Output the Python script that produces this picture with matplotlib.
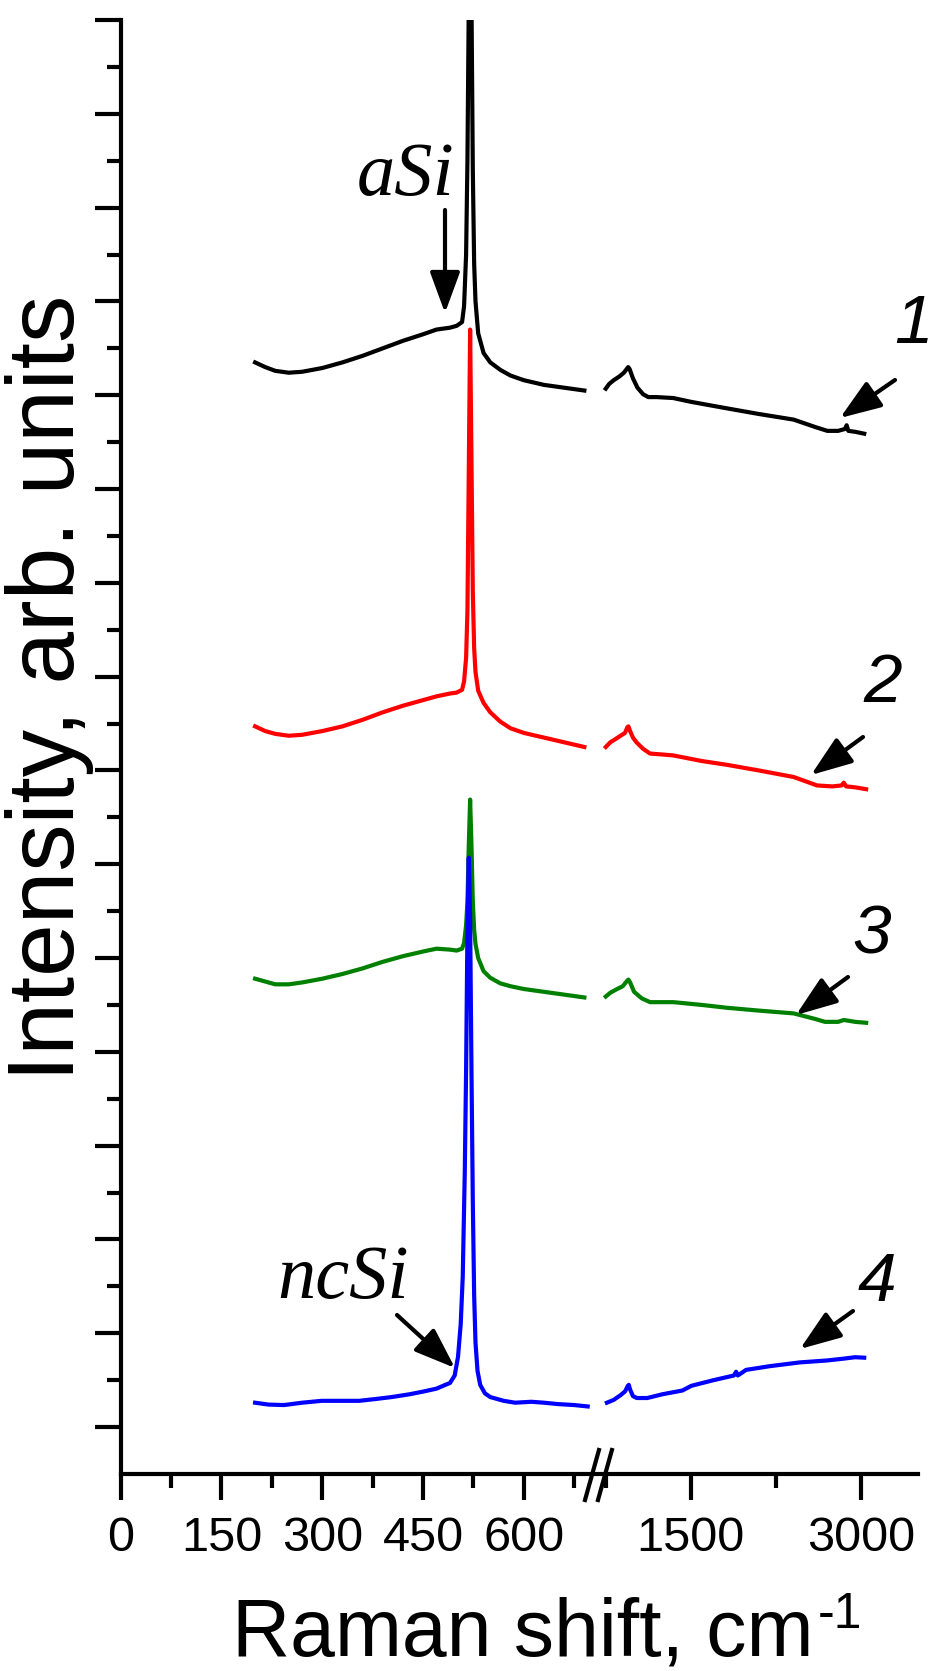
import numpy as np
import matplotlib
matplotlib.use("Agg")
import matplotlib.pyplot as plt

plt.rcParams["font.family"] = ["Liberation Sans", "DejaVu Sans"]

# Raman spectra of samples 1-4, split at the axis break (left: 200-700, right: 750-3050)
shift_left = [200, 215, 230, 250, 270, 300, 330, 360, 390, 420, 450, 470, 490, 500, 508,
              511, 514, 516, 518, 520, 522, 524, 526, 528, 532, 540, 550, 565, 580, 600,
              630, 660, 690]
int_left_1 = [11.35, 11.30, 11.26, 11.24, 11.25, 11.29, 11.35, 11.42, 11.50, 11.58, 11.65,
              11.70, 11.72, 11.74, 11.78, 11.95, 12.5, 13.5, 15.2, 16.0, 15.2, 13.4, 12.4,
              12.0, 11.66, 11.45, 11.35, 11.27, 11.21, 11.16, 11.11, 11.08, 11.05]
int_left_2 = [7.47, 7.42, 7.39, 7.37, 7.38, 7.42, 7.47, 7.54, 7.62, 7.69, 7.75, 7.79, 7.82,
              7.83, 7.86, 7.95, 8.2, 8.7, 10.2, 11.7, 10.3, 8.9, 8.3, 8.05, 7.85, 7.72, 7.62,
              7.52, 7.45, 7.40, 7.35, 7.30, 7.25]
int_left_3 = [4.78, 4.75, 4.72, 4.72, 4.74, 4.78, 4.83, 4.89, 4.96, 5.02, 5.07, 5.10, 5.09,
              5.08, 5.10, 5.16, 5.35, 5.6, 6.2, 6.69, 6.2, 5.6, 5.3, 5.15, 5.0, 4.86, 4.79,
              4.73, 4.70, 4.67, 4.64, 4.61, 4.58]

shift_left_4 = [200, 220, 243, 270, 299, 330, 355, 380, 403, 430, 451, 470, 483, 490, 497,
                502, 506, 509, 512, 514, 516, 518, 520, 522, 524, 526, 528, 531, 535, 542,
                550, 570, 587, 611, 630, 651, 675, 695]
int_left_4 = [0.26, 0.24, 0.235, 0.26, 0.28, 0.28, 0.28, 0.30, 0.32, 0.35, 0.38, 0.41, 0.45,
              0.47, 0.55, 0.75, 1.1, 1.6, 2.7, 3.8, 5.3, 6.07, 5.4, 3.8, 2.4, 1.4, 0.9, 0.6,
              0.45, 0.36, 0.32, 0.28, 0.26, 0.27, 0.26, 0.245, 0.235, 0.22]

shift_right_1 = [750, 780, 820, 870, 910, 935, 948, 960, 990, 1030, 1080, 1126, 1200, 1346,
                 1500, 1819, 2100, 2408, 2600, 2705, 2800, 2860, 2875, 2890, 2950, 3030]
int_right_1 = [11.07, 11.12, 11.16, 11.20, 11.24, 11.28, 11.30, 11.28, 11.18, 11.08, 11.01,
               10.98, 10.98, 10.97, 10.93, 10.86, 10.80, 10.74, 10.66, 10.62, 10.62, 10.64,
               10.68, 10.62, 10.61, 10.59]
shift_right_2 = [750, 790, 830, 880, 920, 940, 950, 965, 990, 1021, 1080, 1141, 1250, 1346,
                 1600, 1819, 2100, 2408, 2614, 2750, 2830, 2850, 2870, 2950, 3047]
int_right_2 = [7.25, 7.30, 7.33, 7.37, 7.40, 7.46, 7.47, 7.42, 7.35, 7.30, 7.23, 7.18, 7.17,
               7.16, 7.10, 7.06, 7.00, 6.93, 6.84, 6.83, 6.84, 6.87, 6.83, 6.82, 6.80]
shift_right_3 = [750, 790, 850, 900, 940, 950, 965, 1000, 1068, 1141, 1346, 1600, 1819, 2100,
                 2408, 2600, 2684, 2800, 2850, 2950, 3047]
int_right_3 = [4.59, 4.63, 4.67, 4.70, 4.76, 4.77, 4.74, 4.64, 4.57, 4.53, 4.53, 4.50, 4.47,
               4.44, 4.41, 4.35, 4.32, 4.32, 4.34, 4.32, 4.31]
shift_right_4 = [760, 820, 880, 920, 945, 953, 965, 990, 1024, 1116, 1250, 1426, 1505, 1700,
                 1880, 1900, 1915, 1988, 2200, 2465, 2700, 2850, 2950, 3030]
int_right_4 = [0.26, 0.29, 0.34, 0.38, 0.44, 0.45, 0.40, 0.33, 0.31, 0.31, 0.35, 0.39, 0.44,
               0.50, 0.55, 0.59, 0.55, 0.61, 0.65, 0.69, 0.71, 0.73, 0.745, 0.74]

colors = ["black", "red", "green", "blue"]
major_ticks = [0, 150, 300, 450, 600, 1500, 3000]
major_labels = ["0", "150", "300", "450", "600", "1500", "3000"]
minor_ticks = [75, 225, 375, 525, 675, 750, 2250]

# piecewise x scale: 0-700 as is, then a small gap, then 700-3500 compressed
BRK = 700.0
GAP = 13.4
K = 0.1687


def fwd(x):
    x = np.asarray(x, dtype=float)
    return np.where(x <= BRK, x, BRK + GAP + (x - BRK) * K)


def inv(t):
    t = np.asarray(t, dtype=float)
    return np.where(t <= BRK, t, np.where(t < BRK + GAP, BRK, BRK + (t - BRK - GAP) / K))


W, H = 934, 1671
fig = plt.figure(figsize=(W / 100, H / 100), dpi=100)
ax = fig.add_axes([120.7 / W, (H - 1474) / H, 796.8 / W, 1454 / H])
ax.set_xscale("function", functions=(fwd, inv))

lefts = [(shift_left, int_left_1), (shift_left, int_left_2), (shift_left, int_left_3),
         (shift_left_4, int_left_4)]
rights = [(shift_right_1, int_right_1), (shift_right_2, int_right_2),
          (shift_right_3, int_right_3), (shift_right_4, int_right_4)]
for (xl, yl), (xr, yr), c in zip(lefts, rights, colors):
    ax.plot(xl, yl, color=c, lw=3.0)
    ax.plot(xr, yr, color=c, lw=3.0)

ax.set_xlim(0, 3500)
ax.set_ylim(-0.5, 15)
ax.set_xticks(major_ticks)
ax.set_xticklabels(major_labels)
ax.set_xticks(minor_ticks, minor=True)
ax.set_yticks(np.arange(0, 16, 1))
ax.set_yticks(np.arange(0.5, 15, 1), minor=True)
ax.set_yticklabels([])
ax.tick_params(which="major", direction="out", length=19, width=3, labelsize=35, pad=11)
ax.tick_params(which="minor", direction="out", length=10, width=3)
for side in ["top", "right"]:
    ax.spines[side].set_visible(False)
for side in ["left", "bottom"]:
    ax.spines[side].set_linewidth(3)

# axis break marks
for x0 in [0.5827, 0.599]:
    ax.plot([x0, x0 + 0.0175], [-0.0179, 0.0165], transform=ax.transAxes,
            color="black", lw=3, clip_on=False)

fig.text(50 / W, 1 - 688 / H, "Intensity, arb. units", rotation=90, ha="center",
         va="center", fontsize=68)
fig.text(232 / W, 1 - 1656 / H, "Raman shift, cm", ha="left", va="baseline", fontsize=58)
fig.text(818 / W, 1 - 1628 / H, "-1", ha="left", va="baseline", fontsize=36)

# curve numbers and arrows
labels = [("1", 914, 343), ("2", 883, 702), ("3", 872, 953), ("4", 877, 1301)]
for t, x, y in labels:
    fig.text(x / W, 1 - y / H, t, ha="center", va="baseline", fontsize=50, style="italic")

arrows = [((895, 380), (840, 418)), ((863, 737), (811, 775)), ((848, 977), (796, 1015)),
          ((853, 1311), (800, 1349)), ((445, 210), (445, 313)), ((397, 1315), (455, 1368))]
for (tx, ty), (hx, hy) in arrows:
    ax.annotate("", xy=(hx, H - hy), xycoords="figure pixels", xytext=(tx, H - ty),
                textcoords="figure pixels",
                arrowprops=dict(arrowstyle="-|>,head_length=0.6,head_width=0.22",
                                mutation_scale=42, lw=3, color="black", shrinkA=0, shrinkB=0))

fig.text(406 / W, 1 - 195 / H, "aSi", ha="center", va="baseline", fontsize=55,
         family="Liberation Serif", style="italic")
fig.text(343 / W, 1 - 1298 / H, "ncSi", ha="center", va="baseline", fontsize=55,
         family="Liberation Serif", style="italic")

fig.savefig("out.png", dpi=100)
